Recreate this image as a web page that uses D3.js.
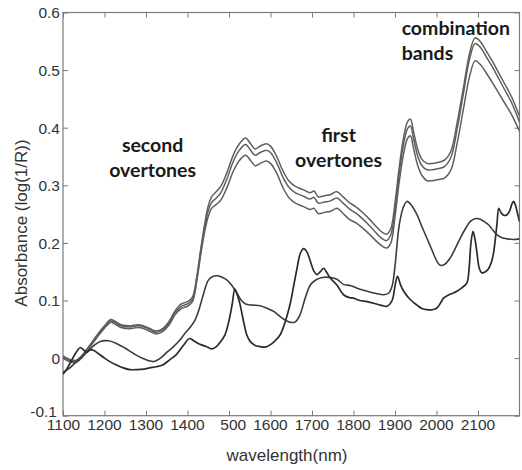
<!DOCTYPE html>
<html>
<head>
<meta charset="utf-8">
<script src="https://cdn.jsdelivr.net/npm/d3@7"></script>
<style>
  html, body { margin: 0; padding: 0; background: #fff; }
  svg { display: block; }
</style>
</head>
<body>
<svg id="chart" width="522" height="470"></svg>
<script>
// NIR absorbance spectra: three closely spaced spectra (group A) and two others (B, C)
const wlA = [1100,1115,1130,1145,1160,1180,1200,1215,1225,1240,1260,1280,1295,1310,1325,1340,1355,1370,1385,1400,1412,1422,1432,1442,1450,1458,1468,1480,1495,1510,1525,1540,1552,1563,1575,1590,1600,1615,1630,1645,1660,1680,1695,1705,1715,1730,1745,1760,1775,1790,1805,1820,1840,1855,1870,1880,1890,1900,1910,1920,1930,1937,1945,1955,1965,1977,1990,2005,2020,2035,2050,2065,2080,2093,2105,2120,2135,2150,2165,2180,2200];

const absA1 = [0.004,-0.002,-0.004,0.004,0.018,0.038,0.056,0.067,0.064,0.058,0.056,0.058,0.056,0.051,0.047,0.051,0.063,0.082,0.094,0.098,0.106,0.14,0.19,0.235,0.264,0.28,0.288,0.298,0.322,0.352,0.372,0.382,0.372,0.363,0.368,0.372,0.368,0.35,0.325,0.307,0.298,0.292,0.287,0.29,0.28,0.282,0.284,0.289,0.28,0.27,0.263,0.254,0.24,0.228,0.218,0.215,0.225,0.27,0.33,0.38,0.41,0.415,0.392,0.362,0.345,0.338,0.338,0.34,0.344,0.36,0.41,0.47,0.53,0.556,0.55,0.533,0.515,0.495,0.475,0.455,0.42];

const absA2 = [0.002,-0.004,-0.006,0.002,0.016,0.036,0.054,0.065,0.062,0.056,0.054,0.056,0.054,0.049,0.045,0.049,0.06,0.079,0.09,0.094,0.102,0.136,0.185,0.229,0.256,0.27,0.277,0.287,0.311,0.341,0.361,0.371,0.361,0.352,0.357,0.361,0.357,0.339,0.314,0.296,0.287,0.281,0.276,0.279,0.269,0.271,0.273,0.278,0.269,0.259,0.252,0.243,0.229,0.217,0.207,0.204,0.214,0.26,0.32,0.369,0.398,0.403,0.38,0.35,0.334,0.327,0.327,0.329,0.333,0.349,0.399,0.46,0.52,0.546,0.54,0.523,0.505,0.485,0.465,0.445,0.41];

const absA3 = [0.0,-0.006,-0.008,0.0,0.014,0.034,0.052,0.062,0.059,0.053,0.051,0.053,0.051,0.046,0.042,0.046,0.057,0.075,0.086,0.09,0.098,0.132,0.18,0.222,0.246,0.26,0.266,0.274,0.296,0.324,0.343,0.352,0.343,0.334,0.338,0.342,0.338,0.321,0.296,0.278,0.269,0.263,0.258,0.26,0.251,0.253,0.255,0.26,0.251,0.241,0.235,0.227,0.214,0.203,0.194,0.191,0.2,0.245,0.305,0.352,0.381,0.386,0.363,0.334,0.317,0.308,0.308,0.31,0.313,0.327,0.374,0.433,0.49,0.516,0.51,0.495,0.478,0.46,0.442,0.424,0.394];

const wlB = [1100,1115,1130,1145,1160,1175,1190,1210,1230,1250,1270,1290,1305,1318,1335,1350,1365,1380,1395,1408,1418,1428,1438,1450,1462,1472,1485,1496,1508,1518,1530,1540,1555,1575,1590,1608,1620,1633,1648,1660,1671,1684,1696,1710,1725,1745,1760,1776,1792,1810,1833,1855,1873,1885,1893,1900,1910,1920,1929,1940,1953,1965,1977,1990,2001,2009,2020,2033,2045,2057,2070,2081,2092,2102,2115,2126,2136,2146,2158,2170,2185,2200];
const absB = [-0.025,-0.018,-0.008,0.002,0.012,0.022,0.029,0.03,0.025,0.017,0.008,0.0,-0.004,-0.006,0.0,0.01,0.019,0.03,0.044,0.055,0.066,0.085,0.11,0.135,0.142,0.143,0.14,0.135,0.125,0.114,0.1,0.094,0.092,0.091,0.087,0.081,0.074,0.067,0.062,0.063,0.075,0.105,0.127,0.136,0.14,0.14,0.137,0.128,0.126,0.121,0.116,0.112,0.11,0.113,0.125,0.16,0.23,0.262,0.272,0.265,0.249,0.228,0.208,0.186,0.168,0.161,0.163,0.174,0.19,0.208,0.225,0.237,0.242,0.242,0.237,0.231,0.222,0.214,0.209,0.207,0.206,0.207];

const wlC = [1100,1110,1120,1130,1141,1150,1157,1165,1172,1185,1200,1215,1229,1245,1261,1280,1295,1309,1325,1340,1357,1373,1390,1405,1415,1430,1445,1458,1468,1478,1490,1500,1508,1514,1519,1526,1535,1543,1551,1563,1575,1587,1599,1611,1623,1635,1647,1657,1664,1672,1680,1688,1696,1704,1712,1720,1728,1736,1744,1760,1776,1790,1800,1815,1833,1855,1870,1881,1893,1900,1906,1913,1921,1935,1953,1965,1977,1990,2001,2010,2017,2030,2041,2049,2061,2073,2079,2083,2088,2093,2098,2103,2109,2118,2126,2133,2138,2143,2146,2150,2156,2162,2170,2176,2182,2186,2190,2194,2200];
const absC = [-0.028,-0.018,-0.005,0.008,0.018,0.014,0.01,0.014,0.014,0.008,0.0,-0.007,-0.012,-0.017,-0.02,-0.02,-0.019,-0.017,-0.015,-0.012,-0.003,0.006,0.022,0.034,0.03,0.024,0.02,0.016,0.019,0.027,0.04,0.065,0.095,0.12,0.112,0.095,0.064,0.04,0.029,0.022,0.02,0.019,0.023,0.03,0.04,0.062,0.093,0.13,0.156,0.182,0.19,0.184,0.168,0.152,0.145,0.15,0.156,0.148,0.139,0.127,0.11,0.105,0.104,0.1,0.098,0.094,0.091,0.09,0.1,0.125,0.142,0.128,0.116,0.103,0.092,0.086,0.084,0.084,0.087,0.096,0.104,0.11,0.113,0.116,0.122,0.13,0.16,0.2,0.22,0.205,0.18,0.156,0.148,0.15,0.156,0.168,0.185,0.215,0.235,0.26,0.252,0.248,0.249,0.255,0.268,0.272,0.266,0.255,0.237];

const xTicks = [1100,1200,1300,1400,1500,1600,1700,1800,1900,2000,2100];
const xTickLabels = ["1100","1200","1300","1400","500","1600","1700","1800","1900","2000","2100"];
const yTicks = [-0.1,0,0.1,0.2,0.3,0.4,0.5,0.6];
const yTickLabels = ["-0.1","0","0.1","0.2","0.3","0.4","0.5","0.6"];

const bandNotes = [
  { lines: ["second", "overtones"], x: 1316, y: 0.358, anchor: "middle" },
  { lines: ["first", "overtones"], x: 1764, y: 0.375, anchor: "middle" },
  { lines: ["combination", "bands"], x: 1916, y: 0.561, anchor: "start" }
];

const svg = d3.select("#chart");
const W = 522, H = 470;
const plot = { left: 63, right: 519.5, top: 12.5, bottom: 415.7 };

const x = d3.scaleLinear().domain([1100, 2200]).range([plot.left, plot.right]);
const y = d3.scaleLinear().domain([-0.1, 0.6]).range([plot.bottom, plot.top]);

svg.append("rect").attr("width", W).attr("height", H).attr("fill", "#fff");

const axisColor = "#7a7a7a";
const labelColor = "#333";
const tickFont = "Liberation Sans, Arial, sans-serif";

// Bottom axis (ticks point inward)
const gx = svg.append("g")
  .attr("transform", `translate(0,${plot.bottom})`)
  .call(d3.axisBottom(x).tickValues(xTicks).tickSizeInner(-5).tickSizeOuter(0)
    .tickFormat((d, i) => xTickLabels[i]));
// Top axis
const gxt = svg.append("g")
  .attr("transform", `translate(0,${plot.top})`)
  .call(d3.axisTop(x).tickValues(xTicks).tickSizeInner(-5).tickSizeOuter(0).tickFormat(""));
// Left axis
const gy = svg.append("g")
  .attr("transform", `translate(${plot.left},0)`)
  .call(d3.axisLeft(y).tickValues(yTicks).tickSizeInner(-5).tickSizeOuter(0)
    .tickFormat((d, i) => yTickLabels[i]));
// Right axis
const gyr = svg.append("g")
  .attr("transform", `translate(${plot.right},0)`)
  .call(d3.axisRight(y).tickValues(yTicks).tickSizeInner(-5).tickSizeOuter(0).tickFormat(""));

[gx, gxt, gy, gyr].forEach(g => {
  g.select(".domain").remove();
  g.selectAll(".tick line").attr("stroke", axisColor).attr("stroke-width", 1);
});

// Frame
svg.append("rect")
  .attr("x", plot.left).attr("y", plot.top)
  .attr("width", plot.right - plot.left).attr("height", plot.bottom - plot.top)
  .attr("fill", "none").attr("stroke", axisColor).attr("stroke-width", 1.2);

// Tick label styling; x labels are right-aligned to where a 4-digit label would end
gx.selectAll(".tick text")
  .attr("font-family", tickFont).attr("font-size", 15.5).attr("fill", labelColor)
  .attr("y", 3.5).attr("dy", "0.71em");
const w4 = gx.select(".tick text").node().getComputedTextLength();
gx.selectAll(".tick text").attr("text-anchor", "end").attr("x", w4 / 2);

gy.selectAll(".tick text")
  .attr("font-family", tickFont).attr("font-size", 15.5).attr("fill", labelColor)
  .attr("x", -3).attr("dy", "0.35em");
// the lowest y label sits just above the corner so it clears the first x label
gy.selectAll(".tick text").filter(d => d === -0.1).attr("dy", "0.05em").attr("x", -6);

// Axis titles
svg.append("text")
  .attr("x", 287).attr("y", 461)
  .attr("text-anchor", "middle")
  .attr("font-family", tickFont).attr("font-size", 17).attr("fill", labelColor)
  .text("wavelength(nm)");

svg.append("text")
  .attr("transform", "translate(27,223) rotate(-90)")
  .attr("text-anchor", "middle")
  .attr("font-family", tickFont).attr("font-size", 17).attr("fill", labelColor)
  .text("Absorbance (log(1/R))");

// Spectra
const line = d3.line()
  .x(d => x(d[0]))
  .y(d => y(d[1]))
  .curve(d3.curveCatmullRom.alpha(0.5));

const series = [
  { wl: wlA, v: absA3, color: "#5e5e5e", w: 1.5 },
  { wl: wlA, v: absA2, color: "#5e5e5e", w: 1.5 },
  { wl: wlA, v: absA1, color: "#5e5e5e", w: 1.5 },
  { wl: wlB, v: absB, color: "#3c3c3c", w: 1.6 },
  { wl: wlC, v: absC, color: "#2a2a2a", w: 1.7 }
];

const clipId = "plotClip";
svg.append("clipPath").attr("id", clipId)
  .append("rect")
  .attr("x", plot.left).attr("y", plot.top)
  .attr("width", plot.right - plot.left).attr("height", plot.bottom - plot.top);

svg.append("g").attr("clip-path", `url(#${clipId})`)
  .selectAll("path")
  .data(series)
  .join("path")
  .attr("d", s => line(s.wl.map((w, i) => [w, s.v[i]])))
  .attr("fill", "none")
  .attr("stroke", s => s.color)
  .attr("stroke-width", s => s.w)
  .attr("stroke-linejoin", "round");

// Spectral region annotations
const notes = svg.append("g")
  .attr("font-family", "Lato, 'Open Sans', sans-serif")
  .attr("font-weight", 700)
  .attr("font-size", 19.5)
  .attr("fill", "#1a1a1a");

bandNotes.forEach(n => {
  const t = notes.append("text")
    .attr("x", x(n.x)).attr("y", y(n.y))
    .attr("text-anchor", n.anchor);
  n.lines.forEach((s, i) => {
    t.append("tspan").attr("x", x(n.x)).attr("dy", i === 0 ? 0 : 25).text(s);
  });
});
</script>
</body>
</html>
